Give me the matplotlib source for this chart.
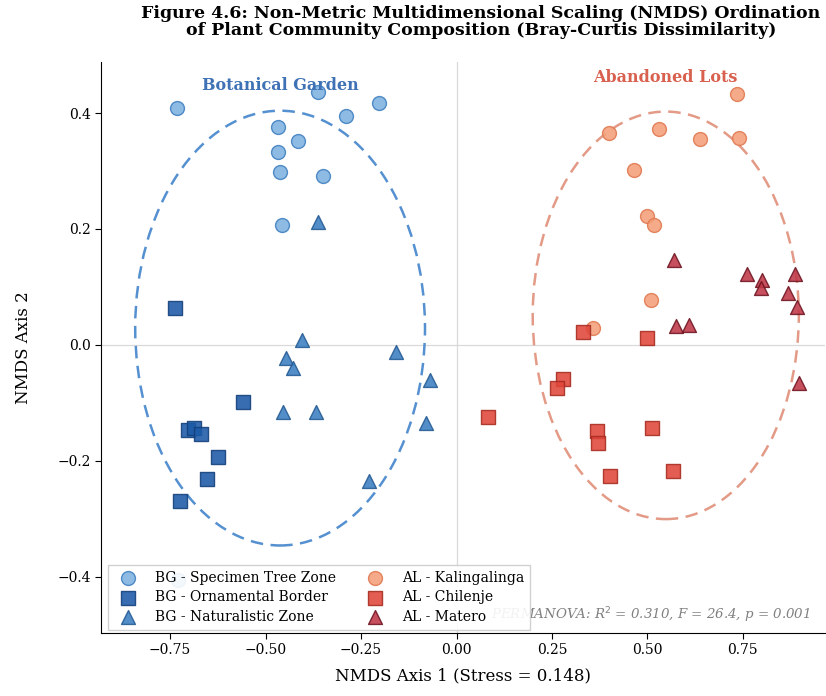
import matplotlib
matplotlib.use("Agg")
import matplotlib.pyplot as plt
from matplotlib.patches import Ellipse
import numpy as np

plt.rcParams['font.family'] = 'DejaVu Serif'
plt.rcParams['font.size'] = 10

# NMDS scores per site type
bg_tree_x = [-0.732, -0.363, -0.203, -0.290, -0.467, -0.415, -0.467, -0.462, -0.349, -0.458, -0.729]
bg_tree_y = [0.408, 0.437, 0.418, 0.395, 0.376, 0.352, 0.333, 0.299, 0.292, 0.206, -0.405]
bg_orn_x = [-0.737, -0.558, -0.703, -0.687, -0.669, -0.624, -0.654, -0.724]
bg_orn_y = [0.064, -0.098, -0.147, -0.143, -0.153, -0.194, -0.231, -0.270]
bg_nat_x = [-0.362, -0.405, -0.446, -0.427, -0.455, -0.368, -0.158, -0.069, -0.080, -0.228]
bg_nat_y = [0.212, 0.009, -0.023, -0.040, -0.115, -0.116, -0.012, -0.060, -0.135, -0.234]

al_kal_x = [0.734, 0.400, 0.530, 0.637, 0.740, 0.465, 0.498, 0.518, 0.509, 0.358]
al_kal_y = [0.432, 0.365, 0.372, 0.355, 0.357, 0.301, 0.222, 0.207, 0.078, 0.030]
al_chi_x = [0.332, 0.500, 0.280, 0.262, 0.083, 0.367, 0.371, 0.511, 0.402, 0.566]
al_chi_y = [0.023, 0.012, -0.059, -0.075, -0.124, -0.149, -0.169, -0.143, -0.227, -0.218]
al_mat_x = [0.570, 0.760, 0.801, 0.797, 0.886, 0.867, 0.891, 0.575, 0.609, 0.897]
al_mat_y = [0.147, 0.122, 0.112, 0.098, 0.122, 0.089, 0.066, 0.033, 0.034, -0.066]

# group ellipses: centre x, centre y, width, height
bg_ell = (-0.462, 0.029, 0.759, 0.750)
al_ell = (0.548, 0.051, 0.697, 0.703)

stress = 0.148
perm_r2, perm_f, perm_p = 0.310, 26.4, 0.001

fig = plt.figure(figsize=(8.26, 6.96), dpi=100)
ax = fig.add_axes([0.1223, 0.0905, 0.8765, 0.8204])

ax.axhline(0, color='#d9d9d9', lw=0.9, zorder=0)
ax.axvline(0, color='#d9d9d9', lw=0.9, zorder=0)

groups = [
    (bg_tree_x, bg_tree_y, 'o', '#7db2e0', '#3f7fc0', 'BG - Specimen Tree Zone'),
    (bg_orn_x, bg_orn_y, 's', '#1c5aa6', '#123f7a', 'BG - Ornamental Border'),
    (bg_nat_x, bg_nat_y, '^', '#3b7fc2', '#245a92', 'BG - Naturalistic Zone'),
    (al_kal_x, al_kal_y, 'o', '#f4a07a', '#e07850', 'AL - Kalingalinga'),
    (al_chi_x, al_chi_y, 's', '#e0463a', '#a52a20', 'AL - Chilenje'),
    (al_mat_x, al_mat_y, '^', '#c03848', '#6e1420', 'AL - Matero'),
]
for gx, gy, m, fc, ec, lab in groups:
    ax.scatter(gx, gy, marker=m, s=100, facecolor=fc, edgecolor=ec,
               linewidth=1.0, alpha=0.88, label=lab, zorder=3)

for (cx, cy, w, h), col in [(bg_ell, '#5590d0'), (al_ell, '#e39a86')]:
    ax.add_patch(Ellipse((cx, cy), w, h, fill=False, ls=(0, (5, 3)),
                         lw=1.8, edgecolor=col, zorder=2))

ax.text(bg_ell[0], 0.448, 'Botanical Garden', color='#3f72b5', fontsize=11.5,
        fontweight='bold', ha='center', va='center')
ax.text(al_ell[0], 0.462, 'Abandoned Lots', color='#d9604f', fontsize=11.5,
        fontweight='bold', ha='center', va='center')

ax.text(0.98, 0.032,
        f'PERMANOVA: R$^2$ = {perm_r2:.3f}, F = {perm_f}, p = {perm_p:.3f}',
        transform=ax.transAxes, ha='right', va='center', fontsize=9.6,
        style='italic', color='#808080')

leg = ax.legend(loc='lower left', ncol=2, fontsize=10, frameon=True,
                framealpha=0.9, edgecolor='#cccccc', fancybox=False,
                borderpad=0.45, handletextpad=0.9, columnspacing=1.85,
                labelspacing=0.4, borderaxespad=0.2,
                bbox_to_anchor=(0.006, 0.0))
leg.set_zorder(5)

ax.set_xlim(-0.931, 0.965)
ax.set_ylim(-0.497, 0.488)
ax.set_xticks([-0.75, -0.5, -0.25, 0.0, 0.25, 0.5, 0.75])
ax.set_yticks([-0.4, -0.2, 0.0, 0.2, 0.4])
ax.spines['top'].set_visible(False)
ax.spines['right'].set_visible(False)
ax.tick_params(direction='out', length=4)
ax.set_xlabel(f'NMDS Axis 1 (Stress = {stress})', fontsize=12, labelpad=7)
ax.set_ylabel('NMDS Axis 2', fontsize=12, labelpad=18)

fig.text(0.582, 0.969,
         'Figure 4.6: Non-Metric Multidimensional Scaling (NMDS) Ordination\n'
         'of Plant Community Composition (Bray-Curtis Dissimilarity)',
         ha='center', va='center', fontsize=12.5, fontweight='bold',
         linespacing=1.0)

fig.savefig('out.png', dpi=100)
